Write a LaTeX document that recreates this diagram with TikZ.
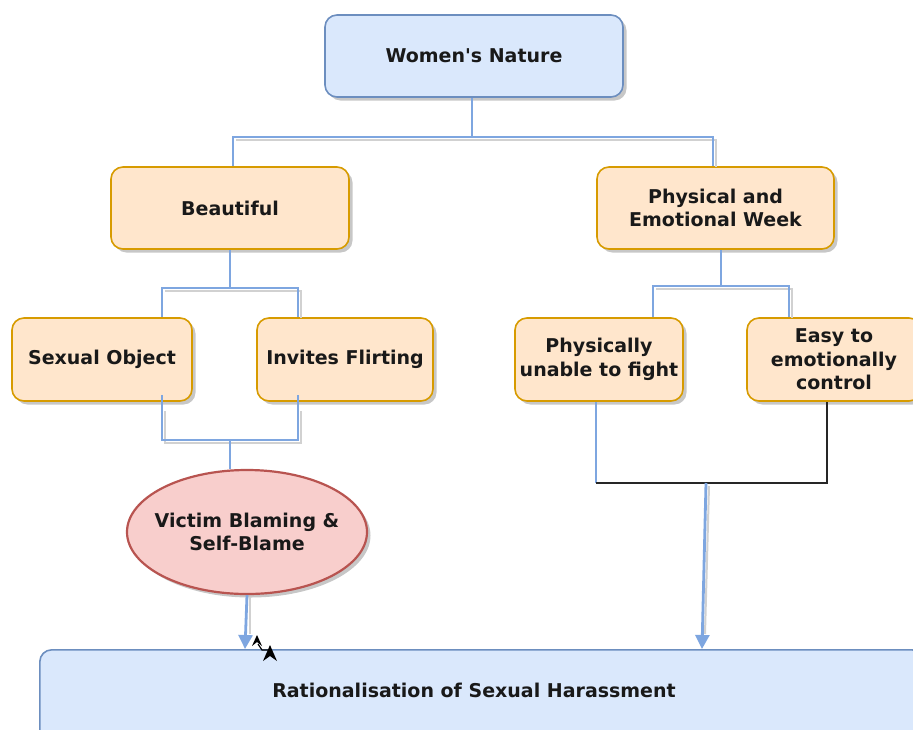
\documentclass[tikz,border=0pt]{standalone}
\usepackage{fontspec}
\setmainfont{DejaVu Sans}
\usetikzlibrary{shadows,arrows.meta,shapes.geometric}
\definecolor{blueFill}{HTML}{DAE8FC}
\definecolor{blueLine}{HTML}{6C8EBF}
\definecolor{orangeFill}{HTML}{FFE6CC}
\definecolor{orangeLine}{HTML}{D79B00}
\definecolor{redFill}{HTML}{F8CECC}
\definecolor{redLine}{HTML}{B85450}
\definecolor{wireBlue}{HTML}{7EA6E0}
\tikzset{
  labelfont/.style={font=\bfseries\fontsize{19}{23.5}\selectfont, text=black!90},
  box/.style={draw, rounded corners=12pt, line width=1.6pt, align=center,
    labelfont, inner sep=0pt,
    drop shadow={shadow xshift=3.5pt, shadow yshift=-3.5pt, fill=black!22, opacity=1}},
  bluebox/.style={box, fill=blueFill, draw=blueLine},
  orangebox/.style={box, fill=orangeFill, draw=orangeLine},
  wire/.style={draw=wireBlue, line width=2.8pt},
  wireshadow/.style={draw=black!18, line width=2.8pt},
  blackwire/.style={draw=black!85, line width=2.8pt},
  arrowwire/.style={wire, -{Triangle[width=14pt,length=14pt]}},
}
\begin{document}
\begin{tikzpicture}[x=1pt,y=-1pt]
\useasboundingbox (0,0) rectangle (913,729);

% boxes
\node[bluebox, minimum width=298pt, minimum height=82pt] (wn) at (474,56) {Women\textquotesingle s Nature};
\node[orangebox, minimum width=238pt, minimum height=82pt] (beau) at (230,208) {Beautiful};
\node[orangebox, minimum width=237pt, minimum height=82pt] (phys) at (715.5,208) {Physical and\\Emotional Week};
\node[orangebox, minimum width=180pt, minimum height=83pt] (sex) at (102,359.5) {Sexual Object};
\node[orangebox, minimum width=176pt, minimum height=83pt] (flirt) at (345,359.5) {Invites Flirting};
\node[orangebox, minimum width=168pt, minimum height=83pt] (unable) at (599,359.5) {Physically\\unable to fight};
\node[orangebox, minimum width=174pt, minimum height=83pt] (easy) at (834,359.5) {Easy to\\emotionally\\control};
\node[draw=redLine, fill=redFill, ellipse, line width=2.2pt, minimum width=240pt, minimum height=124pt,
  align=center, labelfont, inner xsep=-20pt, inner ysep=0pt,
  drop shadow={shadow xshift=3.5pt, shadow yshift=-3.5pt, fill=black!22, opacity=1}] (victim) at (247,532) {Victim Blaming \&\\Self-Blame};
\node[bluebox, minimum width=884pt, minimum height=100pt, anchor=north west] (rat) at (39,649) {};
\node[labelfont] (ratlabel) at (474,690) {Rationalisation of Sexual Harassment};

% junction points
\coordinate (t1) at (472,137);
\coordinate (b1) at (230,288);
\coordinate (p1) at (721,286);
\coordinate (v1) at (230,440);
\coordinate (j1) at (706,483);

% top split
\draw[wireshadow] (236,140) -- (716,140) -- (716,167);
\draw[wire] (wn.south -| t1) -- (t1);
\draw[wire] (beau.north -| 233,0) |- (t1) -| (phys.north -| 713,0);

% Beautiful split
\draw[wireshadow] (165,291) -- (301,291) -- (301,318);
\draw[wire] (beau.south -| b1) -- (b1);
\draw[wire] (sex.north -| 162,0) |- (b1) -| (flirt.north -| 298,0);

% merge into Victim Blaming
\draw[wireshadow] (165,411) -- (165,443) -- (301,443) -- (301,411);
\draw[wire] ([yshift=7pt]sex.south -| 162,0) |- (v1) -| ([yshift=7pt]flirt.south -| 298,0);
\draw[wire] (v1) -- (victim.north -| v1);

% Physical split
\draw[wireshadow] (656,289) -- (792,289) -- (792,318);
\draw[wire] (phys.south -| p1) -- (p1);
\draw[wire] (unable.north -| 653,0) |- (p1) -| (easy.north -| 789,0);

% merge of the two right branches
\draw[wire] (unable.south -| 596,0) -- (596,483);
\draw[blackwire] (596,483) -- (827,483) -- (easy.south -| 827,0);

% arrows into Rationalisation
\draw[wireshadow, line width=2pt] (709,486) -- (705,634);
\draw[arrowwire] (j1) -- (rat.north -| 702,0);
\draw[wireshadow] (250,597) -- (250,634);
\draw[arrowwire] (victim.south) -- (rat.north -| 245,0);

% small black tips
\fill[black] (252,646) -- (257,635) -- (262,646) -- (257,642) -- cycle;
\draw[black, line width=1.2pt] (258,644) -- (262,650) -- (268,650);
\fill[black] (263,661) -- (270,645) -- (277,661) -- (270,656) -- cycle;
\end{tikzpicture}
\end{document}
